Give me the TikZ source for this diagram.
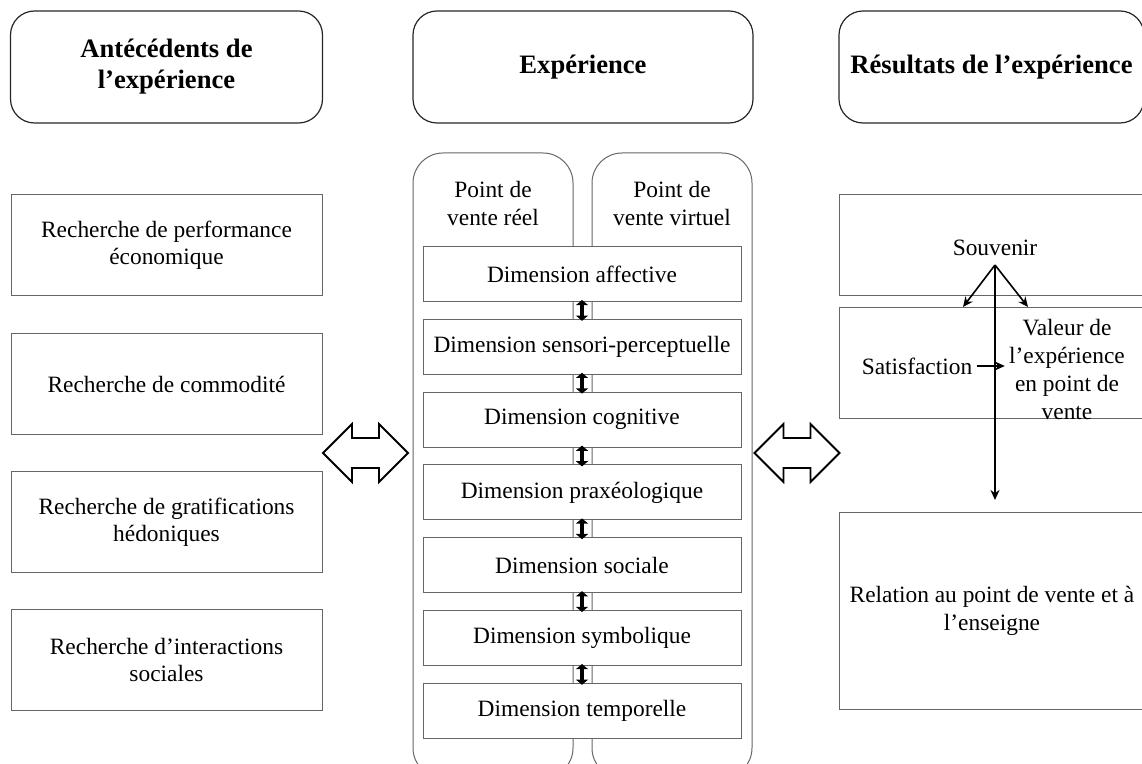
\documentclass[tikz,border=0pt]{standalone}
\usepackage{fontspec}
\setmainfont{Liberation Serif}
\usetikzlibrary{arrows.meta}

\definecolor{framegray}{gray}{0.4}

\tikzset{
  headbox/.style={draw=black!85, line width=0.6pt, rounded corners=12pt, minimum width=156pt, minimum height=56pt, align=center, font=\fontsize{13.3}{15.5}\selectfont\bfseries},
  antbox/.style={draw=framegray, line width=0.5pt, minimum width=155.5pt, minimum height=50.5pt, align=center, font=\fontsize{11.7}{13.6}\selectfont},
  dimbox/.style={draw=framegray, line width=0.5pt, fill=white, minimum width=159pt, minimum height=27.5pt, font=\fontsize{11.7}{13.6}\selectfont},
  resbox/.style={draw=framegray, line width=0.5pt, minimum width=160pt, align=center, font=\fontsize{11.7}{13.6}\selectfont},
  plain/.style={align=center, inner sep=2pt, font=\fontsize{11.7}{14}\selectfont},
  colbox/.style={draw=framegray, line width=0.5pt, rounded corners=15pt},
  dimarrow/.style={{Triangle[length=2.6pt,width=6pt]}-{Triangle[length=2.6pt,width=6pt]}, line width=2pt, shorten <=-1pt, shorten >=-1pt},
  resarrow/.style={-{Stealth[length=5pt,width=4.5pt]}, line width=0.8pt},
  hollowarrow/.pic={
    \draw[line width=0.9pt, fill=white] (-42.5,0) -- (-13.5,-29) -- (-13.5,-15) -- (13.5,-15) -- (13.5,-29) -- (42.5,0)
      -- (13.5,29) -- (13.5,15) -- (-13.5,15) -- (-13.5,29) -- cycle;
  }
}

\begin{document}
\begin{tikzpicture}[x=0.5pt,y=-0.5pt]
\useasboundingbox (0,0) rectangle (1142,764);
\clip (0,0) rectangle (1142,764);

% titres
\node[headbox] (hant) at (166.5,67) {Antécédents de\\l’expérience};
\node[headbox, minimum width=170pt] (hexp) at (583,67) {Expérience};
\node[headbox, minimum width=152.5pt] (hres) at (991.5,67) {Résultats de l’expérience};

% antecedents
\node[antbox] (a1) at (166.5,245.5) {Recherche de performance\\économique};
\node[antbox] (a2) at (166.5,384) {Recherche de commodité};
\node[antbox] (a3) at (166.5,522.5) {Recherche de gratifications\\hédoniques};
\node[antbox] (a4) at (166.5,660) {Recherche d’interactions\\sociales};

% experience
\draw[colbox] (413,153) rectangle (573,778);
\draw[colbox] (592,153) rectangle (752,778);
\node[plain] (reel) at (493,204) {Point de\\vente réel};
\node[plain] (virt) at (672,204) {Point de\\vente virtuel};

\foreach \i/\t in {1/affective,2/sensori-perceptuelle,3/cognitive,4/praxéologique,5/sociale,6/symbolique,7/temporelle}
  \node[dimbox] (d\i) at (582,{274+72.8*(\i-1)}) {Dimension \t};
\foreach \i [evaluate=\i as \j using int(\i+1)] in {1,...,6}
  \draw[dimarrow] (d\i.south) -- (d\j.north);

\pic at (365.5,453) {hollowarrow};
\pic at (797,453) {hollowarrow};

% resultats
\node[resbox, minimum width=160pt, minimum height=50.5pt] (r1) at (999.5,245.5) {};
\node[resbox, minimum width=160pt, minimum height=55.5pt] (r2) at (999.5,363.5) {};
\node[resbox, minimum width=160pt, minimum height=98.5pt] (r3) at (999.5,611.5) {};
\node[plain] (souv) at (995,248) {Souvenir};
\node[plain] (sat) at (917,366) {Satisfaction};
\node[plain] (val) at (1067,369) {Valeur de\\l’expérience\\en point de\\vente};
\node[plain] (rel) at (992,611) {Relation au point de vente et à\\l’enseigne};

\coordinate (fork) at (995,265);
\coordinate (satend) at (963,307);
\coordinate (valend) at (1028,307);
\coordinate (relend) at (995,500);
\draw[resarrow] (fork) -- (satend);
\draw[resarrow] (fork) -- (valend);
\draw[resarrow] (fork) -- (relend);
\draw[resarrow] (sat.east) -- (sat.east -| val.west);
\end{tikzpicture}
\end{document}
